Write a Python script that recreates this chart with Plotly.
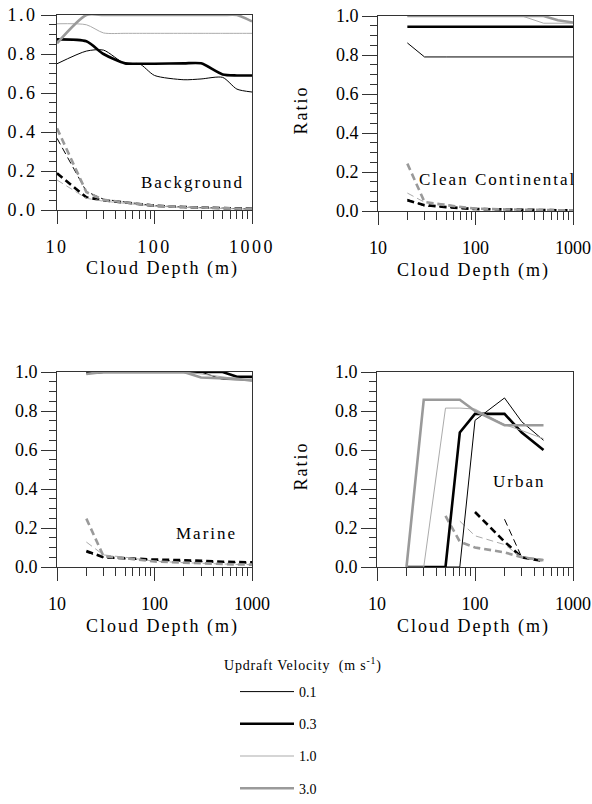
import plotly.graph_objects as go

# ---------------- data ----------------
BG_X = [10, 20, 30, 50, 70, 100, 200, 300, 500, 700, 1000]
CC_X = [20, 30, 50, 70, 100, 200, 300, 500, 700, 1000]
MA_X = [20, 30, 50, 70, 100, 200, 300, 500, 700, 1000]
UR_X = [20, 30, 50, 70, 100, 200, 300, 500]

VELOCITIES = ["0.1", "0.3", "1.0", "3.0"]

# Background (solid = upper curves, dashed = lower curves)
bg_sol_01 = [0.75, 0.815, 0.82, 0.75, 0.75, 0.69, 0.668, 0.672, 0.68, 0.62, 0.605]
bg_sol_03 = [0.875, 0.865, 0.80, 0.752, 0.75, 0.75, 0.752, 0.752, 0.695, 0.69, 0.69]
bg_sol_10 = [0.955, 0.95, 0.908, 0.906, 0.906, 0.906, 0.906, 0.906, 0.906, 0.906, 0.906]
bg_sol_30 = [0.855, 1.0, 1.0, 1.0, 1.0, 1.0, 1.0, 1.0, 1.0, 1.0, 0.967]
bg_dash_01 = [0.368, 0.095, 0.055, 0.04, 0.03, 0.022, 0.015, 0.012, 0.008, 0.006, 0.005]
bg_dash_03 = [0.188, 0.065, 0.05, 0.038, 0.03, 0.022, 0.015, 0.012, 0.009, 0.007, 0.006]
bg_dash_10 = [0.154, 0.06, 0.045, 0.035, 0.027, 0.02, 0.013, 0.01, 0.007, 0.005, 0.004]
bg_dash_30 = [0.419, 0.092, 0.052, 0.04, 0.03, 0.022, 0.015, 0.012, 0.008, 0.006, 0.005]

# Clean Continental
cc_sol_01 = [0.862, 0.79, 0.79, 0.79, 0.79, 0.79, 0.79, 0.79, 0.79, 0.79]
cc_sol_03 = [0.945, 0.945, 0.945, 0.945, 0.945, 0.945, 0.945, 0.945, 0.945, 0.945]
cc_sol_10 = [1.0, 1.0, 1.0, 1.0, 1.0, 1.0, 1.0, 0.963, 0.963, 0.963]
cc_sol_30 = [1.0, 1.0, 1.0, 1.0, 1.0, 1.0, 1.0, 1.0, 0.978, 0.967]
cc_dash_01 = [0.06, 0.025, 0.02, 0.015, 0.01, 0.008, 0.006, 0.005, 0.004, 0.004]
cc_dash_03 = [0.055, 0.03, 0.02, 0.015, 0.01, 0.008, 0.006, 0.005, 0.004, 0.004]
cc_dash_10 = [0.092, 0.045, 0.035, 0.02, 0.012, 0.008, 0.006, 0.005, 0.004, 0.004]
cc_dash_30 = [0.243, 0.046, 0.03, 0.02, 0.012, 0.008, 0.006, 0.005, 0.004, 0.004]

# Marine
ma_sol_01 = [1.0, 1.0, 1.0, 1.0, 1.0, 1.0, 1.0, 0.962, 0.96, 0.958]
ma_sol_03 = [0.995, 1.0, 1.0, 1.0, 1.0, 1.0, 1.0, 1.0, 0.976, 0.975]
ma_sol_10 = [0.99, 1.0, 1.0, 1.0, 1.0, 1.0, 0.99, 0.975, 0.965, 0.955]
ma_sol_30 = [0.99, 1.0, 1.0, 1.0, 1.0, 1.0, 0.972, 0.97, 0.965, 0.955]
ma_dash_01 = [0.075, 0.05, 0.042, 0.038, 0.035, 0.03, 0.028, 0.025, 0.022, 0.02]
ma_dash_03 = [0.082, 0.05, 0.045, 0.04, 0.038, 0.035, 0.03, 0.027, 0.025, 0.024]
ma_dash_10 = [0.128, 0.062, 0.05, 0.04, 0.03, 0.022, 0.018, 0.015, 0.013, 0.012]
ma_dash_30 = [0.248, 0.055, 0.045, 0.035, 0.028, 0.022, 0.018, 0.015, 0.013, 0.012]

# Urban
ur_sol_01 = [0, 0, 0, 0, 0.752, 0.867, 0.745, 0.65]
ur_sol_03 = [0, 0, 0, 0.69, 0.785, 0.785, 0.69, 0.60]
ur_sol_10 = [0, 0, 0.815, 0.815, 0.81, 0.73, 0.70, 0.658]
ur_sol_30 = [0, 0.858, 0.858, 0.858, 0.80, 0.727, 0.727, 0.727]
ur_dash_01 = [None, None, None, None, None, 0.245, 0.05, 0.03]
ur_dash_03 = [None, None, None, None, 0.282, 0.13, 0.05, 0.03]
ur_dash_10 = [None, None, None, 0.235, 0.16, 0.115, 0.05, 0.04]
ur_dash_30 = [None, None, 0.262, 0.13, 0.10, 0.075, 0.05, 0.035]

PANEL_NAMES = ["Background", "Clean Continental", "Marine", "Urban"]
X_TICKS = [10, 100, 1000]
X_TICK_TEXT = ["10", "100", "1000"]
X_MINOR = [20, 30, 40, 50, 60, 70, 80, 90, 200, 300, 400, 500, 600, 700, 800, 900]
LEGEND_TITLE = "Updraft Velocity  (m s<sup>-1</sup>)"

# ---------------- styles ----------------
STYLES = {
    "0.1": dict(color="#000000", width=1.0),
    "0.3": dict(color="#000000", width=2.6),
    "1.0": dict(color="#ababab", width=1.0),
    "3.0": dict(color="#9a9a9a", width=2.6),
}
FONT = "Liberation Serif, Times New Roman, serif"
W, H = 592, 804

panels = [
    dict(x=BG_X, sol=[bg_sol_01, bg_sol_03, bg_sol_10, bg_sol_30],
         dash=[bg_dash_01, bg_dash_03, bg_dash_10, bg_dash_30], shape="spline",
         px=(57, 252), py=(15, 210), title_dx=8),
    dict(x=CC_X, sol=[cc_sol_01, cc_sol_03, cc_sol_10, cc_sol_30],
         dash=[cc_dash_01, cc_dash_03, cc_dash_10, cc_dash_30], shape="linear",
         px=(378, 573), py=(16, 211), title_dx=-2),
    dict(x=MA_X, sol=[ma_sol_01, ma_sol_03, ma_sol_10, ma_sol_30],
         dash=[ma_dash_01, ma_dash_03, ma_dash_10, ma_dash_30], shape="linear",
         px=(57, 252), py=(372, 567), title_dx=8),
    dict(x=UR_X, sol=[ur_sol_01, ur_sol_03, ur_sol_10, ur_sol_30],
         dash=[ur_dash_01, ur_dash_03, ur_dash_10, ur_dash_30], shape="linear",
         px=(377, 573), py=(372, 567), title_dx=-2),
]

fig = go.Figure()
layout_axes = {}
annotations = []
TXT = dict(family=FONT, size=18, color="#000000")

for i, p in enumerate(panels):
    n = i + 1
    xa = "x" if n == 1 else f"x{n}"
    ya = "y" if n == 1 else f"y{n}"
    for v, ys in zip(VELOCITIES, p["dash"]):
        st = STYLES[v]
        fig.add_trace(go.Scatter(
            x=p["x"], y=ys, xaxis=xa, yaxis=ya, mode="lines",
            line=dict(color=st["color"], width=st["width"], dash="7px,4px"),
            showlegend=False, cliponaxis=False, hoverinfo="skip"))
    for v, ys in zip(VELOCITIES, p["sol"]):
        st = STYLES[v]
        fig.add_trace(go.Scatter(
            x=p["x"], y=ys, xaxis=xa, yaxis=ya, mode="lines", name=v,
            line=dict(color=st["color"], width=st["width"], shape=p["shape"],
                      smoothing=0.7),
            legendgroup=v, showlegend=(n == 1), cliponaxis=False))

    x0, x1 = p["px"]
    y0, y1 = p["py"]
    xname = "xaxis" if n == 1 else f"xaxis{n}"
    yname = "yaxis" if n == 1 else f"yaxis{n}"
    layout_axes[xname] = dict(
        type="log", range=[1, 3], domain=[x0 / W, x1 / W], anchor=ya,
        automargin=False,
        showline=True, linecolor="#333333", linewidth=1, mirror=True,
        ticks="outside", ticklen=13, tickwidth=1, tickcolor="#333333",
        tickvals=X_TICKS, ticktext=X_TICK_TEXT, ticklabelstandoff=7,
        tickfont=TXT,
        minor=dict(tickvals=X_MINOR, ticks="outside", ticklen=8,
                   tickwidth=1, tickcolor="#333333", showgrid=False),
        showgrid=False, zeroline=False)
    layout_axes[yname] = dict(
        range=[0, 1], domain=[1 - y1 / H, 1 - y0 / H], anchor=xa,
        automargin=False,
        showline=True, linecolor="#333333", linewidth=1, mirror=True,
        ticks="outside", ticklen=15, tickwidth=1, tickcolor="#333333",
        dtick=0.2, tick0=0, tickformat=".1f",
        tickfont=TXT,
        minor=dict(dtick=0.05, ticks="outside", ticklen=7, tickwidth=1,
                   tickcolor="#333333", showgrid=False),
        showgrid=False, zeroline=False)

    annotations.append(dict(
        text="Cloud Depth (m)", xref="paper", yref="paper",
        x=((x0 + x1) / 2 + p["title_dx"]) / W, y=1 - (y1 + 59) / H,
        xanchor="center", yanchor="middle", showarrow=False, font=TXT))
    if n in (2, 4):
        annotations.append(dict(
            text="Ratio", xref="paper", yref="paper", textangle=-90,
            x=300 / W, y=1 - ((y0 + y1) / 2 - 3) / H,
            xanchor="center", yanchor="middle", showarrow=False, font=TXT))

label_pos = [(193, 182), (498, 180), (206, 533), (519, 481)]
for name, (lx, ly) in zip(PANEL_NAMES, label_pos):
    annotations.append(dict(
        text=name, xref="paper", yref="paper", x=lx / W, y=1 - ly / H,
        xanchor="center", yanchor="middle", showarrow=False,
        font=dict(family=FONT, size=17, color="#000000")))

# legend heading
annotations.append(dict(
    text=LEGEND_TITLE, xref="paper", yref="paper", x=232 / W, y=1 - 664 / H,
    xanchor="left", yanchor="middle", showarrow=False,
    font=dict(family=FONT, size=14, color="#000000")))

fig.update_layout(
    width=W, height=H, autosize=False,
    margin=dict(l=0, r=0, t=0, b=0),
    paper_bgcolor="white", plot_bgcolor="white",
    annotations=annotations,
    showlegend=True,
    legend=dict(
        x=235 / W, y=0, xanchor="left", yanchor="bottom",
        font=dict(family=FONT, size=14, color="#000000"),
        itemwidth=54, tracegroupgap=11, borderwidth=0,
        bgcolor="rgba(0,0,0,0)"),
    **layout_axes,
)

post = """
document.body.style.margin = '0';
document.body.style.overflow = 'hidden';
var gd = document.getElementById('{plot_id}');
function spacing(){
  gd.querySelectorAll('.xtick text, .ytick text').forEach(function(t){t.style.letterSpacing='2.5px';});
  gd.querySelectorAll('.annotation-text').forEach(function(t){
    if (t.textContent.indexOf('Updraft') === -1) { t.style.letterSpacing='2px'; }
    else { t.style.letterSpacing='0.8px'; }
  });
}
spacing();
gd.on('plotly_afterplot', spacing);
"""

fig.write_html("out.html", post_script=post, config={"displayModeBar": False})
